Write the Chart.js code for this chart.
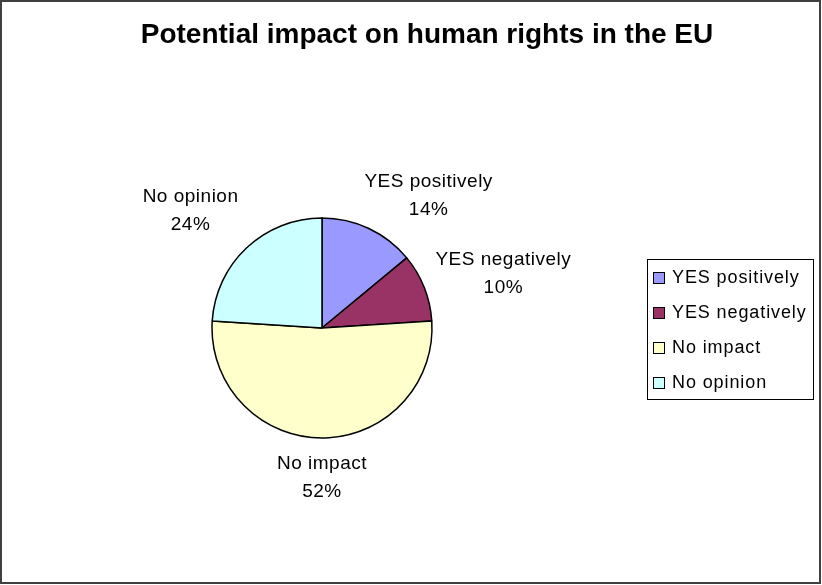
<!DOCTYPE html>
<html>
<head>
<meta charset="utf-8">
<script src="https://cdn.jsdelivr.net/npm/chart.js"></script>
<style>
  html, body { margin: 0; padding: 0; background: #fff; }
  #wrap { width: 822px; height: 585px; position: relative; }
</style>
</head>
<body>
<div id="wrap"><canvas id="pieChart" width="822" height="585"></canvas></div>
<script>
// data
const categories = ['YES positively', 'YES negatively', 'No impact', 'No opinion'];
const shares = [14, 10, 52, 24];
const sliceColors = ['#9999FF', '#993366', '#FFFFCC', '#CCFFFF'];
const chartTitle = 'Potential impact on human rights in the EU';

const FONT = 'Arial, "Liberation Sans", sans-serif';

// frame + title
const framePlugin = {
    id: 'frame',
    beforeDraw(chart) {
        const ctx = chart.ctx;
        ctx.save();
        ctx.fillStyle = '#fff';
        ctx.fillRect(0, 0, chart.width, chart.height);
        ctx.strokeStyle = '#404040';
        ctx.lineWidth = 2;
        ctx.strokeRect(1, 1, 819, 582);
        ctx.fillStyle = '#000';
        ctx.font = 'bold 28px ' + FONT;
        ctx.textAlign = 'center';
        ctx.textBaseline = 'middle';
        ctx.fillText(chartTitle, 427, 35);
        ctx.restore();
    }
};

// outside labels: category + percent, placed from each arc's mid angle
const labelPlugin = {
    id: 'outLabels',
    afterDatasetsDraw(chart) {
        const ctx = chart.ctx;
        const meta = chart.getDatasetMeta(0);
        const total = shares.reduce((a, b) => a + b, 0);
        ctx.save();
        ctx.font = '19px ' + FONT;
        ctx.letterSpacing = '0.5px';
        ctx.fillStyle = '#000';
        ctx.textAlign = 'center';
        ctx.textBaseline = 'middle';
        const lineH = 28;
        meta.data.forEach((arc, i) => {
            const { x, y, startAngle, endAngle, outerRadius } = arc.getProps(['x', 'y', 'startAngle', 'endAngle', 'outerRadius'], true);
            const mid = (startAngle + endAngle) / 2;
            const c = Math.cos(mid), s = Math.sin(mid);
            const ax = x + (outerRadius + 12) * c;
            const ay = y + (outerRadius + 12) * s;
            const pct = Math.round(shares[i] / total * 100) + '%';
            const w = Math.max(ctx.measureText(categories[i]).width, ctx.measureText(pct).width);
            const h = lineH * 2;
            const fx = Math.max(-1, Math.min(1, c * 2));
            const fy = Math.max(-1, Math.min(1, s * 1.5));
            const cx = ax + fx * w / 2;
            const cy = ay + fy * h / 2 + (s < 0 && c > 0 ? 6 : 0);
            ctx.fillText(categories[i], cx, cy - lineH / 2);
            ctx.fillText(pct, cx, cy + lineH / 2);
        });
        ctx.restore();
    }
};

// boxed legend on the right
const legendPlugin = {
    id: 'boxLegend',
    afterDraw(chart) {
        const ctx = chart.ctx;
        const colors = chart.data.datasets[0].backgroundColor;
        ctx.save();
        ctx.strokeStyle = '#000';
        ctx.lineWidth = 1;
        ctx.strokeRect(647.5, 259.5, 166, 140);
        ctx.font = '18px ' + FONT;
        ctx.letterSpacing = '0.9px';
        ctx.textAlign = 'left';
        ctx.textBaseline = 'middle';
        chart.data.labels.forEach((lab, i) => {
            const yy = 278 + i * 35;
            ctx.fillStyle = colors[i];
            ctx.fillRect(653.5, yy - 5.5, 11, 11);
            ctx.strokeRect(653.5, yy - 5.5, 11, 11);
            ctx.fillStyle = '#000';
            ctx.fillText(lab, 672, yy);
        });
        ctx.restore();
    }
};

new Chart(document.getElementById('pieChart'), {
    type: 'pie',
    data: {
        labels: categories,
        datasets: [{
            data: shares,
            backgroundColor: sliceColors,
            borderColor: '#000',
            borderWidth: 1.5
        }]
    },
    options: {
        responsive: false,
        animation: false,
        radius: 110,
        layout: { padding: { left: 100, right: 278, top: 150, bottom: 79 } },
        plugins: {
            legend: { display: false },
            tooltip: { enabled: false },
            title: { display: false }
        }
    },
    plugins: [framePlugin, labelPlugin, legendPlugin]
});
</script>
</body>
</html>
